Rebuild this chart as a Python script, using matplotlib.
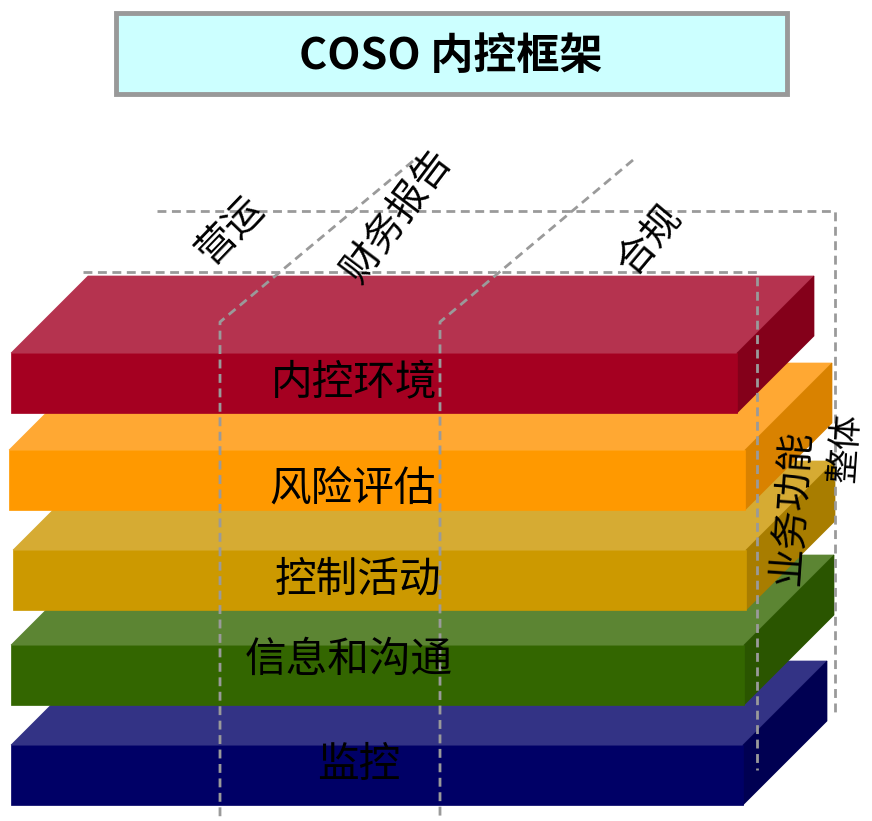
import matplotlib.pyplot as plt
from matplotlib.patches import Polygon, Rectangle

plt.rcParams['font.family'] = ['Noto Sans CJK SC', 'DejaVu Sans']

# layers, top to bottom
layers = ["内控环境", "风险评估", "控制活动", "信息和沟通", "监控"]
front_colors = ["#A50021", "#FF9900", "#CC9900", "#336600", "#000066"]
top_colors = ["#B5334F", "#FFA833", "#D6AB33", "#5C8533", "#333385"]
side_colors = ["#84001A", "#D98200", "#A87D00", "#2A5500", "#000052"]

# axis labels around the block
top_labels = ["营运", "财务报告", "合规"]
side_labels = ["业务功能", "整体"]
title = "COSO 内控框架"

# layout (pixel coordinates, y downward)
W, H = 872, 821
slab_top = [353, 450, 550, 645, 745]
slab_left = [11, 9, 13, 11, 11]
slab_right = [737, 745, 746, 744, 743]
slab_h = 60
depth = [77, 87, 89, 90, 84]
label_x = [354, 353, 358, 349, 359]
label_y = [383, 490, 580, 660, 765]

fig = plt.figure(figsize=(W / 100, H / 100), dpi=100)
ax = fig.add_axes([0, 0, 1, 1])
ax.set_xlim(0, W)
ax.set_ylim(H, 0)
ax.axis("off")

# title box
ax.add_patch(Rectangle((116, 13), 671, 81, facecolor="#CCFFFF",
                       edgecolor="#999999", linewidth=3.5, zorder=1))
ax.text(451, 56, title, fontsize=31, ha="center", va="center",
        fontweight="bold", zorder=2)

# slabs, drawn from the bottom up so upper ones cover the lower ones
for i in reversed(range(len(layers))):
    x0, x1 = slab_left[i], slab_right[i]
    y0 = slab_top[i]
    y1 = y0 + slab_h
    d = depth[i]
    top = [(x0, y0), (x1, y0), (x1 + d, y0 - d), (x0 + d, y0 - d)]
    side = [(x1, y0), (x1 + d, y0 - d), (x1 + d, y1 - d), (x1, y1)]
    front = [(x0, y0), (x1, y0), (x1, y1), (x0, y1)]
    for pts, c in [(top, top_colors[i]), (side, side_colors[i]),
                   (front, front_colors[i])]:
        ax.add_patch(Polygon(pts, closed=True, facecolor=c, edgecolor=c,
                             linewidth=0.5, zorder=3))
    ax.text(label_x[i], label_y[i], layers[i], fontsize=30, ha="center",
            va="center", color="black", fontweight="medium", zorder=6)

# dashed guide lines
dash = dict(color="#9A9A9A", linewidth=2.0, linestyle=(0, (3.2, 2.0)), zorder=5)
ax.plot([157, 835, 835], [211, 211, 712], **dash)
ax.plot([83, 757, 757], [272, 272, 770], **dash)
ax.plot([413, 220, 220], [161, 322, 821], **dash)
ax.plot([633, 440, 440], [160, 322, 821], **dash)

# rotated labels
rot = dict(fontsize=28, rotation_mode="anchor", ha="center", va="center",
           fontweight="medium", zorder=6)
ax.text(230, 230, top_labels[0], rotation=46, **rot)
ax.text(398, 216, top_labels[1], rotation=53, **rot)
ax.text(650, 240, top_labels[2], rotation=50, **rot)
ax.text(792, 507, side_labels[0], rotation=86, **rot)
ax.text(846, 447, side_labels[1], rotation=86,
        **{**rot, "fontsize": 25})

plt.savefig("out.png", dpi=100)
